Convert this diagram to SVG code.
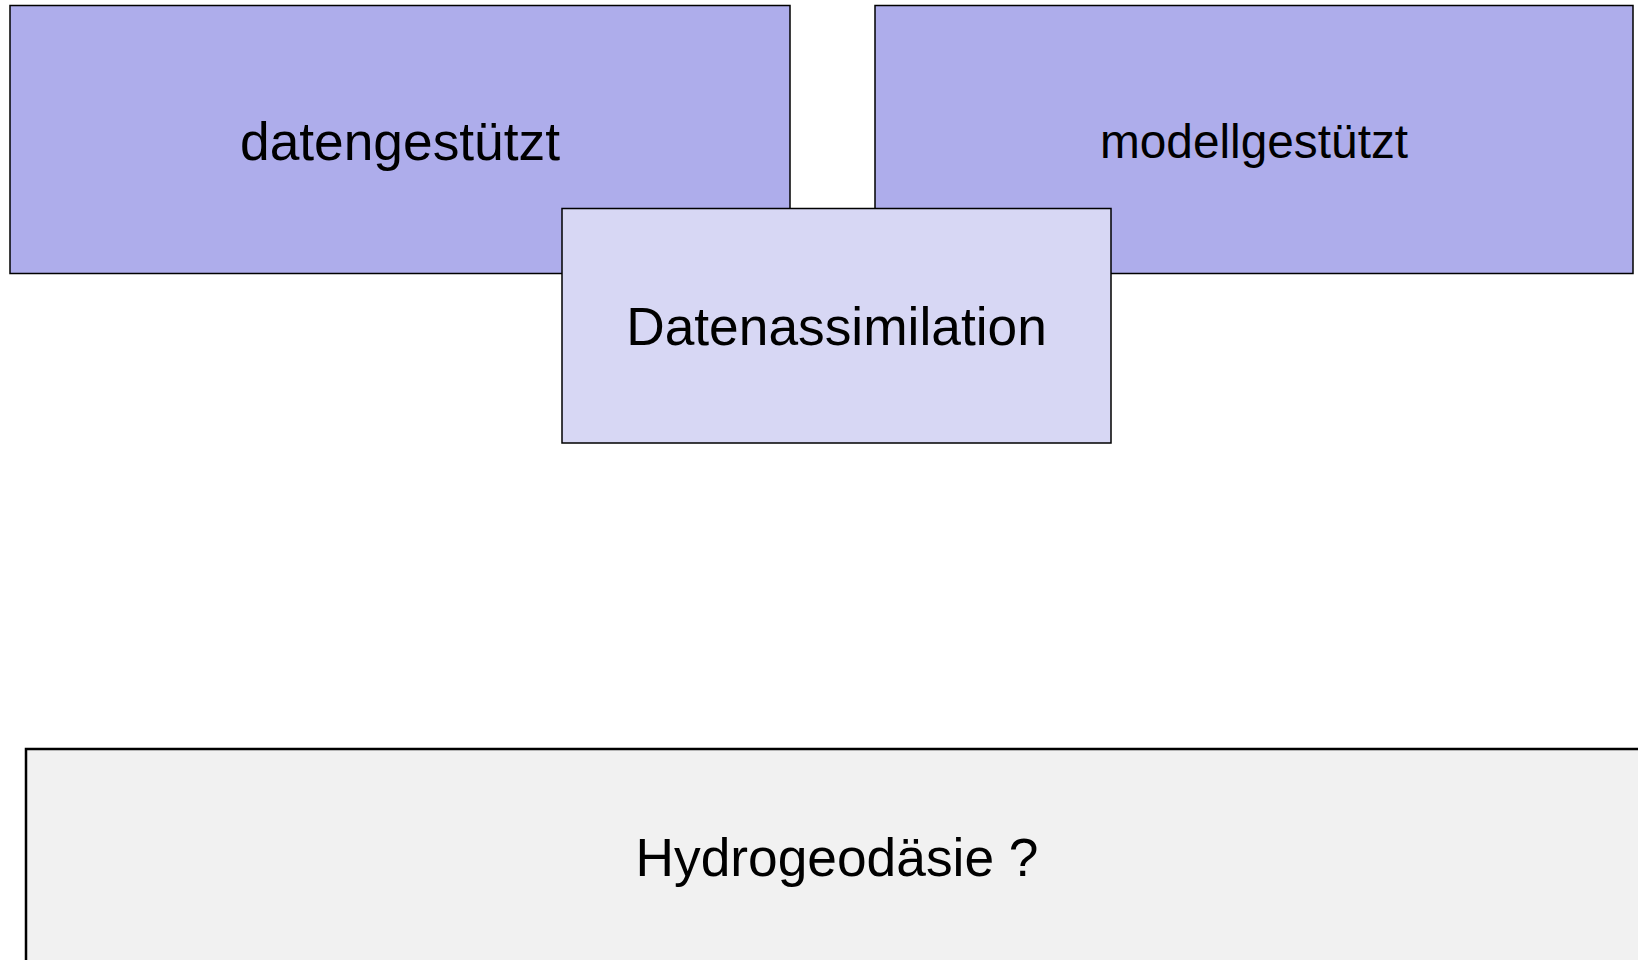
<svg xmlns="http://www.w3.org/2000/svg" width="1638" height="960" viewBox="0 0 1638 960">
<style>
.t{font-family:"Liberation Sans",Arial,sans-serif;fill:#000;text-anchor:middle}
.top{fill:#AEADEB;stroke:#000;stroke-width:1.5}
.mid{fill:#D7D7F4;stroke:#000;stroke-width:1.5}
.bot{fill:#F1F1F1;stroke:#000;stroke-width:2.5}
</style>
<rect width="1638" height="960" fill="#fff"/>
<g id="datengestuetzt">
<rect class="top" x="10" y="5.5" width="780" height="268"/>
<text class="t" x="400" y="160" font-size="53.3">datengestützt</text>
</g>
<g id="modellgestuetzt">
<rect class="top" x="875" y="5.5" width="758" height="268"/>
<text class="t" x="1254" y="158" font-size="47.8">modellgestützt</text>
</g>
<g id="datenassimilation">
<rect class="mid" x="562" y="208.5" width="549" height="234.5"/>
<text class="t" x="836.5" y="345" font-size="53.3">Datenassimilation</text>
</g>
<g id="hydrogeodaesie">
<rect class="bot" x="26" y="749" width="1630" height="230"/>
<text class="t" x="837" y="876" font-size="53.3">Hydrogeodäsie ?</text>
</g>
<g id="connectors"></g>
</svg>
